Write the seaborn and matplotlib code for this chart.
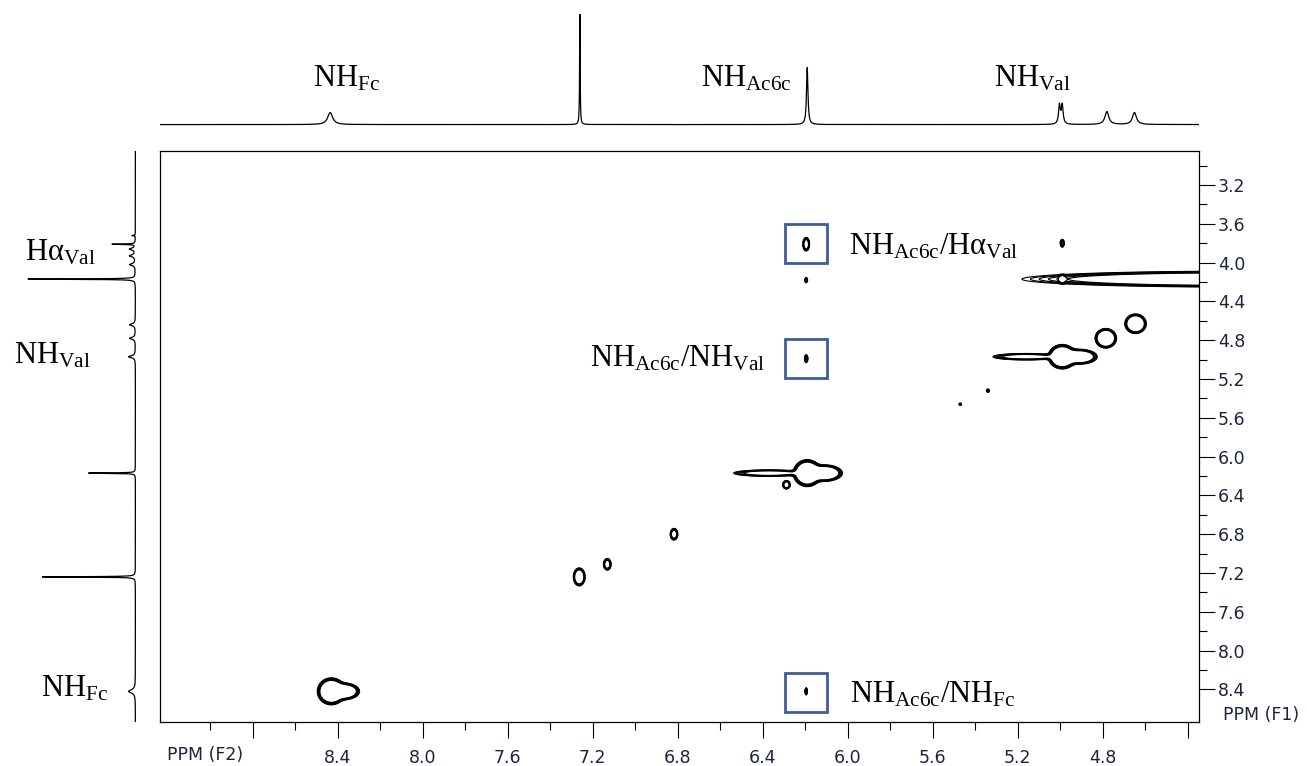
import numpy as np
import matplotlib
matplotlib.use("Agg")
import matplotlib.pyplot as plt
from matplotlib.patches import Rectangle
import seaborn as sns

# ============== DATA ==============
# 1D trace along F2 (top projection)
top_ppm    = [8.435, 7.260, 6.190, 5.003, 4.990, 4.780, 4.650]
top_height = [0.105, 0.980, 0.500, 0.165, 0.165, 0.113, 0.105]
top_hwhm   = [0.014, 0.0015, 0.004, 0.005, 0.005, 0.011, 0.011]

# 1D trace along F1 (left projection)
left_ppm    = [3.72, 3.81, 3.86, 3.93, 4.02, 4.17, 4.64, 4.78, 4.97, 6.17, 7.24, 8.42]
left_height = [0.03, 0.20, 0.05, 0.05, 0.05, 0.93, 0.05, 0.05, 0.06, 0.41, 0.81, 0.06]
left_hwhm   = [0.003, 0.003, 0.012, 0.012, 0.012, 0.003, 0.012, 0.012, 0.012, 0.003, 0.003, 0.02]

# 2D peaks (F2 ppm, F1 ppm, amplitude, width F2, width F1)
pk_f2  = [8.43, 8.37, 6.19, 6.11, 6.37, 4.99, 4.91, 5.16, 4.785, 4.645,
          7.263, 7.131, 6.817, 6.288, 5.34, 5.47, 4.17, 4.99, 4.99,
          6.195, 6.195, 6.195, 6.195]
pk_f1  = [8.42, 8.42, 6.17, 6.17, 6.17, 4.97, 4.97, 4.97, 4.78, 4.63,
          7.24, 7.11, 6.80, 6.29, 5.32, 5.46, 4.17, 4.17, 3.80,
          3.81, 4.18, 4.99, 8.42]
pk_amp = [1.0, 0.8, 1.0, 0.8, 0.35, 1.0, 0.75, 0.35, 1.0, 1.0,
          0.6, 0.3, 0.3, 0.3, 0.08, 0.07, 0.72, 0.3, 0.15,
          0.3, 0.1, 0.15, 0.12]
pk_sx  = [0.026, 0.03, 0.026, 0.035, 0.08, 0.026, 0.035, 0.075, 0.02, 0.02,
          0.012, 0.009, 0.009, 0.009, 0.006, 0.006, 0.42, 0.008, 0.006,
          0.008, 0.005, 0.005, 0.004]
pk_sy  = [0.055, 0.035, 0.055, 0.035, 0.016, 0.05, 0.032, 0.016, 0.04, 0.04,
          0.04, 0.03, 0.03, 0.022, 0.015, 0.012, 0.034, 0.02, 0.025,
          0.035, 0.02, 0.025, 0.025]

# highlighted cross peaks
box_f2 = [6.195, 6.195, 6.195]
box_f1 = [3.80, 4.99, 8.43]
box_labels = [r'$\mathrm{NH_{Ac6c}/H\alpha_{Val}}$',
              r'$\mathrm{NH_{Ac6c}/NH_{Val}}$',
              r'$\mathrm{NH_{Ac6c}/NH_{Fc}}$']

# axis ticks
f2_major = [8.8, 8.4, 8.0, 7.6, 7.2, 6.8, 6.4, 6.0, 5.6, 5.2, 4.8, 4.4]
f2_labels = ['', '8.4', '8.0', '7.6', '7.2', '6.8', '6.4', '6.0', '5.6', '5.2', '4.8', '']
f2_minor = [9.0, 8.6, 8.2, 7.8, 7.4, 7.0, 6.6, 6.2, 5.8, 5.4, 5.0, 4.6]
f1_major = [3.2, 3.6, 4.0, 4.4, 4.8, 5.2, 5.6, 6.0, 6.4, 6.8, 7.2, 7.6, 8.0, 8.4]
f1_minor = [3.0, 3.4, 3.8, 4.2, 4.6, 5.0, 5.4, 5.8, 6.2, 6.6, 7.0, 7.4, 7.8, 8.2]

F2_LIM = (9.236, 4.345)
F1_LIM = (8.736, 2.849)

# ============== SETUP ==============
sns.set_theme(style="white")
plt.rcParams['font.family'] = ['DejaVu Sans']
plt.rcParams['text.color'] = 'black'
plt.rcParams['mathtext.fontset'] = 'custom'
plt.rcParams['mathtext.rm'] = 'Liberation Serif'
plt.rcParams['mathtext.it'] = 'Liberation Serif:italic'

W, H = 1307, 766
fig = plt.figure(figsize=(W / 100, H / 100), dpi=100)


def frac(x, y):
    return x / W, 1 - y / H


def lorentz(grid, pos, hgt, hw):
    out = np.zeros_like(grid)
    for p, h, w in zip(pos, hgt, hw):
        out += h * w**2 / ((grid - p)**2 + w**2)
    return out


ax = fig.add_axes([160 / W, 44 / H, 1039.3 / W, 571 / H])
ax_top = fig.add_axes([160 / W, (H - 128) / H, 1039.3 / W, 118 / H])
ax_left = fig.add_axes([20 / W, 44 / H, 120 / W, 571 / H])

# ============== 2D CONTOURS ==============
f2 = np.linspace(F2_LIM[1], F2_LIM[0], 3000)
f1 = np.linspace(F1_LIM[1], F1_LIM[0], 1500)
Z = np.zeros((f1.size, f2.size))
for x0, y0, a, sx, sy in zip(pk_f2, pk_f1, pk_amp, pk_sx, pk_sy):
    gx = np.exp(-0.5 * ((f2 - x0) / sx)**2)
    gy = np.exp(-0.5 * ((f1 - y0) / sy)**2)
    Z += a * np.outer(gy, gx)

levels = 0.04 * 1.25**np.arange(6)
ax.contour(f2, f1, Z, levels=levels, colors='black', linewidths=0.8)

for x0, y0 in zip(box_f2, box_f1):
    ax.add_patch(Rectangle((x0 - 0.1, y0 - 0.2), 0.2, 0.4, fill=False,
                           edgecolor='#3d5d9a', linewidth=2.0, zorder=5))

ax.text(5.994, 3.83, box_labels[0], fontsize=22, ha='left', va='center')
ax.text(6.388, 4.99, box_labels[1], fontsize=22, ha='right', va='center')
ax.text(5.990, 8.45, box_labels[2], fontsize=22, ha='left', va='center')

ax.set_xlim(*F2_LIM)
ax.set_ylim(*F1_LIM)
ax.yaxis.tick_right()
ax.xaxis.tick_bottom()
ax.set_xticks(f2_major)
ax.set_xticklabels(f2_labels)
ax.set_xticks(f2_minor, minor=True)
ax.set_yticks(f1_major)
ax.set_yticklabels([f"{v:.1f}" for v in f1_major])
ax.set_yticks(f1_minor, minor=True)
ax.tick_params(which='both', direction='out', color='black', width=0.8,
               labelsize=12.5, labelcolor='#1c2340')
ax.tick_params(axis='x', which='major', length=11.5, pad=8)
ax.tick_params(axis='x', which='minor', length=5.8)
ax.tick_params(axis='y', which='major', length=11.5, pad=2)
ax.tick_params(axis='y', which='minor', length=5.8)
for sp in ax.spines.values():
    sp.set_color('black')
    sp.set_linewidth(0.9)
ax.grid(False)

fig.text(*frac(205, 755), 'PPM (F2)', fontsize=12.5, color='#1c2340', ha='center', va='center')
fig.text(*frac(1223, 715), 'PPM (F1)', fontsize=12.5, color='#1c2340', ha='left', va='center')

# ============== 1D TRACES ==============
x_top = np.linspace(F2_LIM[1], F2_LIM[0], 8000)
sns.lineplot(x=x_top, y=lorentz(x_top, top_ppm, top_height, top_hwhm), ax=ax_top,
             color='black', linewidth=0.9, estimator=None, sort=False)
ax_top.set_xlim(*F2_LIM)
ax_top.set_ylim(-0.03, 1.0)
ax_top.axis('off')

y_left = np.linspace(F1_LIM[1], F1_LIM[0], 8000)
sns.lineplot(x=lorentz(y_left, left_ppm, left_height, left_hwhm), y=y_left, ax=ax_left,
             color='black', linewidth=0.9, estimator=None, sort=False, orient='y')
ax_left.set_ylim(*F1_LIM)
ax_left.set_xlim(1.0, -0.04)
ax_left.axis('off')

# peak labels on the traces
fig.text(*frac(347, 78), r'$\mathrm{NH_{Fc}}$', fontsize=22, ha='center', va='center')
fig.text(*frac(746, 78), r'$\mathrm{NH_{Ac6c}}$', fontsize=22, ha='center', va='center')
fig.text(*frac(1032, 78), r'$\mathrm{NH_{Val}}$', fontsize=22, ha='center', va='center')
fig.text(*frac(60, 252), r'$\mathrm{H\alpha_{Val}}$', fontsize=22, ha='center', va='center')
fig.text(*frac(52, 355), r'$\mathrm{NH_{Val}}$', fontsize=22, ha='center', va='center')
fig.text(*frac(75, 688), r'$\mathrm{NH_{Fc}}$', fontsize=22, ha='center', va='center')

fig.savefig("out.png", dpi=100)
